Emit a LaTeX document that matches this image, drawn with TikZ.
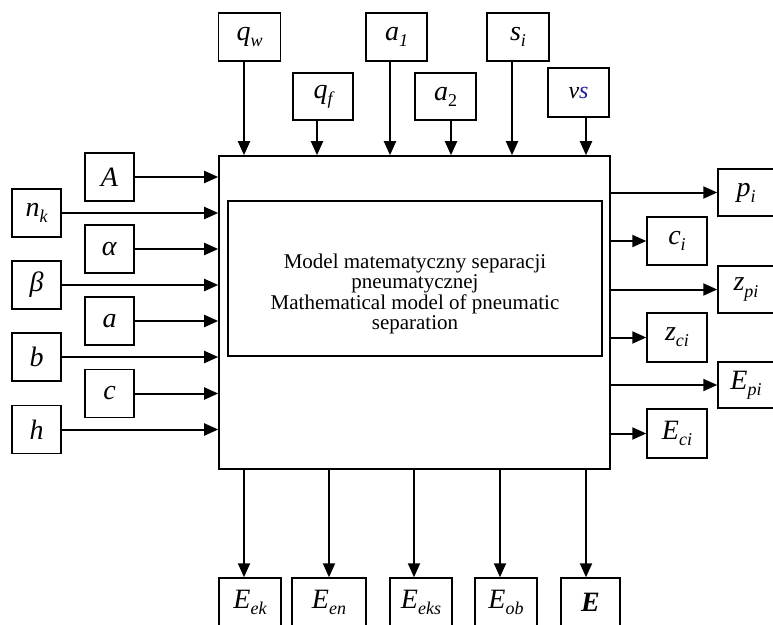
\documentclass[tikz,border=0pt]{standalone}
\usepackage{fontspec}
\setmainfont{Liberation Serif}
\usetikzlibrary{arrows.meta}
\definecolor{vblue}{RGB}{30,30,160}
\newcommand\sbx[1]{\raisebox{-0.22em}{\fontsize{18}{18}\selectfont\itshape #1}}
\newcommand\itx[1]{\textit{#1}}
\begin{document}
\begin{tikzpicture}[x=1pt,y=-1pt,
  box/.style={draw,line width=1.5pt,inner sep=0pt,minimum width=62pt,minimum height=48pt,font=\fontsize{28}{32}\selectfont},
  bigbox/.style={draw,line width=1.6pt,inner sep=0pt},
  arr/.style={line width=2pt,-{Triangle[length=14pt,width=12pt]}}]
\useasboundingbox (0,0) rectangle (773,624);
\clip (0,0) rectangle (773,624);
% main
\node[bigbox,minimum width=391pt,minimum height=313pt] (main) at (414.5,312.5) {};
\node[bigbox,line width=1.4pt,minimum width=374pt,minimum height=155pt] (inner) at (415,278.5) {};
\node[align=center,inner sep=0pt,font=\fontsize{21}{20.5}\selectfont] (title) at (415,294)
  {Model matematyczny separacji\\pneumatycznej\\Mathematical model of pneumatic\\separation};
% top
\node[box] (qw) at (249.5,37) {\itx{q}\sbx{w}};
\node[box,minimum width=60pt,minimum height=47pt] (qf) at (323,96.5) {\itx{q}\sbx{f}};
\node[box,minimum width=61pt] (a1) at (396.5,37) {\itx{a}\sbx{1}};
\node[box,minimum width=61pt,minimum height=47pt] (a2) at (445.5,96.5) {\itx{a}\sbx{\upshape 2}};
\node[box] (si) at (518,37) {\itx{s}\sbx{i}};
\node[box,minimum width=61pt,minimum height=49pt,font=\fontsize{24}{28}\selectfont\itshape] (vs) at (578.5,92.5) {v\textcolor{vblue}{s}};
\draw[arr] ([xshift=-5.5pt]qw.south) -- ([xshift=-5.5pt]qw.south |- main.north);
\draw[arr] ([xshift=-6pt]qf.south) -- ([xshift=-6pt]qf.south |- main.north);
\draw[arr] ([xshift=-6.5pt]a1.south) -- ([xshift=-6.5pt]a1.south |- main.north);
\draw[arr] ([xshift=5.5pt]a2.south) -- ([xshift=5.5pt]a2.south |- main.north);
\draw[arr] ([xshift=-6pt]si.south) -- ([xshift=-6pt]si.south |- main.north);
\draw[arr] ([xshift=7.5pt]vs.south) -- ([xshift=7.5pt]vs.south |- main.north);
% left
\node[box,minimum width=49pt] (A) at (109.5,177) {\itx{A}};
\node[box,minimum width=49pt] (nk) at (36.5,213) {\itx{n}\sbx{k}};
\node[box,minimum width=49pt] (al) at (109.5,249) {\itx{α}};
\node[box,minimum width=49pt] (be) at (36.5,285) {\itx{β}};
\node[box,minimum width=49pt] (la) at (109.5,321) {\itx{a}};
\node[box,minimum width=49pt] (lb) at (36.5,357) {\itx{b}};
\node[box,minimum width=49pt] (lc) at (109.5,393.5) {\itx{c}};
\node[box,minimum width=49pt] (lh) at (36.5,429.5) {\itx{h}};
\foreach \n in {A,nk,al,be,la,lb,lc,lh}
  \draw[arr] (\n.east) -- (\n.east -| main.west);
% right
\node[box,minimum width=62pt,minimum height=47pt] (pi) at (749,192.5) {\hspace*{-6pt}\itx{p}\sbx{i}};
\node[box,minimum width=60pt] (ci) at (677,241) {\itx{c}\sbx{i}};
\node[box,minimum width=62pt,minimum height=47pt] (zpi) at (749,289.5) {\hspace*{-6pt}\itx{z}\sbx{pi}};
\node[box,minimum width=60pt,minimum height=49pt] (zci) at (677,337.5) {\itx{z}\sbx{ci}};
\node[box,minimum width=62pt,minimum height=46pt] (Epi) at (749,385) {\hspace*{-6pt}\itx{E}\sbx{pi}};
\node[box,minimum width=60pt,minimum height=49pt] (Eci) at (677,433.5) {\itx{E}\sbx{ci}};
\foreach \n in {pi,ci,zpi,zci,Epi,Eci}
  \draw[arr] (\n.west -| main.east) -- (\n.west);
% bottom
\node[box,minimum width=62pt] (Eek) at (250,602) {\itx{E}\sbx{ek}};
\node[box,minimum width=74pt] (Een) at (329,602) {\itx{E}\sbx{en}};
\node[box,minimum width=62pt] (Eeks) at (421,602) {\itx{E}\sbx{eks}};
\node[box,minimum width=62pt] (Eob) at (506,602) {\itx{E}\sbx{ob}};
\node[box,minimum width=59pt] (E) at (590.5,602) {\textbf{\textit{E}}};
\draw[arr] ([xshift=-6pt]Eek.north |- main.south) -- ([xshift=-6pt]Eek.north);
\draw[arr] (Een.north |- main.south) -- (Een.north);
\draw[arr] ([xshift=-7pt]Eeks.north |- main.south) -- ([xshift=-7pt]Eeks.north);
\draw[arr] ([xshift=-6pt]Eob.north |- main.south) -- ([xshift=-6pt]Eob.north);
\draw[arr] ([xshift=-4.5pt]E.north |- main.south) -- ([xshift=-4.5pt]E.north);
\end{tikzpicture}
\end{document}
